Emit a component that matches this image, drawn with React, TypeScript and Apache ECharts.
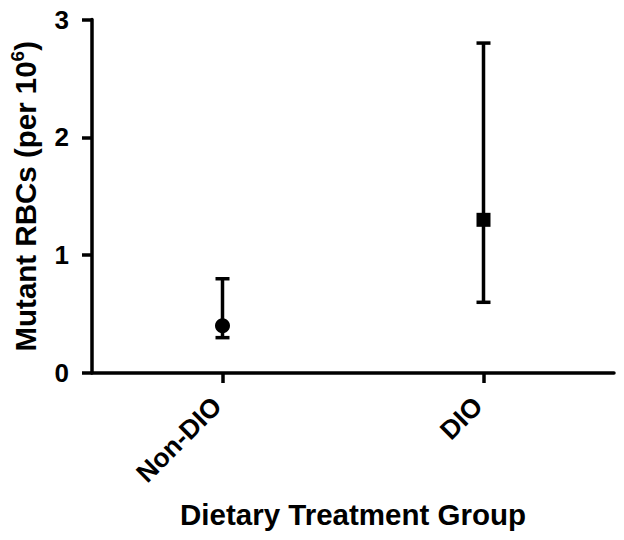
import React, { useEffect, useRef } from "react";
import * as echarts from "echarts";

const categories = ["Non-DIO", "DIO"];
const means = [0.4, 1.3];
const lowerBounds = [0.3, 0.6];
const upperBounds = [0.8, 2.8];
const markerShapes = ["circle", "rect"];
const markerSizes = [15, 14];
const yTicks = { min: 0, max: 3, interval: 1 };

const FONT = "Liberation Sans";

export default function App() {
  const ref = useRef<HTMLDivElement>(null);
  useEffect(() => {
    if (!ref.current) return;
    const chart = echarts.init(ref.current, undefined, { renderer: "svg" });
    const errData = categories.map((c, i) => [i, lowerBounds[i], upperBounds[i]]);
    chart.setOption({
      animation: false,
      backgroundColor: "#ffffff",
      grid: { left: 82, right: 10, top: 19.5, bottom: 167, containLabel: false },
      xAxis: {
        type: "category",
        data: categories,
        boundaryGap: true,
        axisLine: { show: true, lineStyle: { color: "#000", width: 3.5 } },
        axisTick: { show: true, alignWithLabel: true, length: 10, lineStyle: { color: "#000", width: 3.5 } },
        axisLabel: {
          rotate: 45,
          margin: 23,
          padding: [0, 8, 0, 0],
          color: "#000",
          fontFamily: FONT,
          fontWeight: "bold",
          fontSize: 26.5,
        },
        name: "Dietary Treatment Group",
        nameLocation: "middle",
        nameGap: 126,
        nameTextStyle: { color: "#000", fontFamily: FONT, fontWeight: "bold", fontSize: 29.5 },
        splitLine: { show: false },
      },
      yAxis: {
        type: "value",
        min: yTicks.min,
        max: yTicks.max,
        interval: yTicks.interval,
        axisLine: { show: true, lineStyle: { color: "#000", width: 3.5 } },
        axisTick: { show: true, length: 10, lineStyle: { color: "#000", width: 3.5 } },
        axisLabel: {
          margin: 23,
          color: "#000",
          fontFamily: FONT,
          fontWeight: "bold",
          fontSize: 26,
        },
        splitLine: { show: false },
        name: "Mutant RBCs (per 10{sup|6})",
        nameLocation: "middle",
        nameGap: 50,
        nameTextStyle: {
          color: "#000",
          fontFamily: FONT,
          fontWeight: "bold",
          fontSize: 29.5,
          rich: {
            sup: {
              color: "#000",
              fontFamily: FONT,
              fontWeight: "bold",
              fontSize: 19,
              padding: [0, 0, 15, 0],
            },
          },
        },
      },
      series: [
        {
          type: "custom",
          data: errData,
          z: 2,
          renderItem: (params: any, api: any) => {
            const x = api.value(0);
            const lo = api.coord([x, api.value(1)]);
            const hi = api.coord([x, api.value(2)]);
            const half = 7;
            const style = { stroke: "#000", lineWidth: 3.5 };
            return {
              type: "group",
              children: [
                { type: "line", shape: { x1: lo[0], y1: lo[1], x2: hi[0], y2: hi[1] }, style },
                { type: "line", shape: { x1: hi[0] - half, y1: hi[1], x2: hi[0] + half, y2: hi[1] }, style },
                { type: "line", shape: { x1: lo[0] - half, y1: lo[1], x2: lo[0] + half, y2: lo[1] }, style },
              ],
            };
          },
        },
        {
          type: "scatter",
          z: 3,
          data: categories.map((c, i) => ({
            value: [i, means[i]],
            symbol: markerShapes[i],
            symbolSize: markerSizes[i],
          })),
          itemStyle: { color: "#000", opacity: 1 },
        },
      ],
    });
    return () => chart.dispose();
  }, []);
  return <div ref={ref} style={{ width: 624, height: 540, margin: -8 }} />;
}
